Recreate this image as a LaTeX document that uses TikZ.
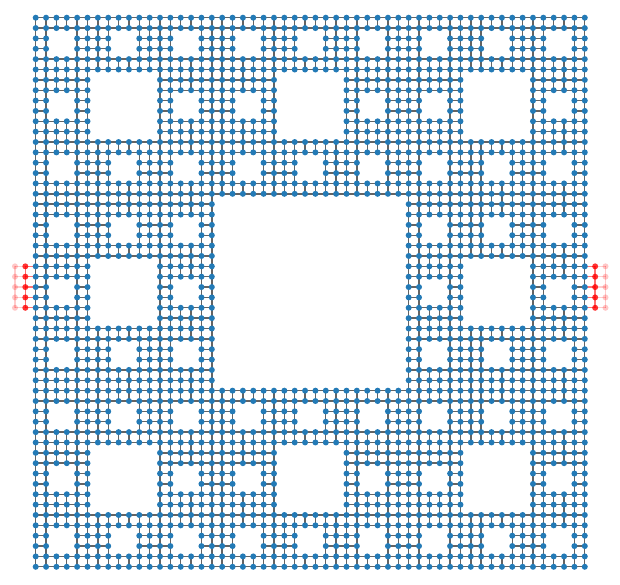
\documentclass[tikz,border=0pt]{standalone}
\definecolor{siteblue}{RGB}{35,122,182}
\definecolor{hopgrey}{RGB}{100,100,100}
\definecolor{leadred}{RGB}{255,0,0}
\begin{document}
\begin{tikzpicture}[x=1pt,y=-1pt,
  hop/.style={draw=hopgrey,line width=1.4pt},
  site/.style={fill=siteblue},
  leadhopA/.style={draw=leadred,line width=1.4pt,draw opacity=0.55},
  leadhopB/.style={draw=leadred,line width=1.4pt,draw opacity=0.2},
  leadsiteA/.style={fill=leadred,fill opacity=0.8},
  leadsiteB/.style={fill=leadred,fill opacity=0.22}]
\useasboundingbox (0,0) rectangle (620,584);
\def\ox{35.7}\def\oy{17.7}\def\sp{10.36}\def\rad{3.0}
\def\pairs{0/0,1/0,2/0,0/1,2/1,0/2,1/2,2/2}
% sites of the carpet (level 3, each cell holds 2x2 sites)
\foreach \ax/\ay in \pairs {\foreach \bx/\by in \pairs {\foreach \cx/\cy in \pairs {
  \edef\X{\the\numexpr 2*(9*\ax+3*\bx+\cx)\relax}%
  \edef\Y{\the\numexpr 2*(9*\ay+3*\by+\cy)\relax}%
  \edef\XX{\the\numexpr\X+1\relax}%
  \edef\YY{\the\numexpr\Y+1\relax}%
  \coordinate (n-\X-\Y) at (\ox+\X*\sp, \oy+\Y*\sp);
  \coordinate (n-\XX-\Y) at (\ox+\XX*\sp, \oy+\Y*\sp);
  \coordinate (n-\X-\YY) at (\ox+\X*\sp, \oy+\YY*\sp);
  \coordinate (n-\XX-\YY) at (\ox+\XX*\sp, \oy+\YY*\sp);
}}}
% lead sites
\foreach \r in {24,...,28}{
  \coordinate (L1-\r) at (\ox-\sp, \oy+\r*\sp);
  \coordinate (L2-\r) at (\ox-2*\sp, \oy+\r*\sp);
  \coordinate (R1-\r) at (\ox+54*\sp, \oy+\r*\sp);
  \coordinate (R2-\r) at (\ox+55*\sp, \oy+\r*\sp);
}
% hoppings of the carpet
\foreach \i in {0,...,53}{\foreach \j in {0,...,53}{%
  \ifcsname pgf@sh@ns@n-\i-\j\endcsname
    \edef\ip{\the\numexpr\i+1\relax}\edef\jp{\the\numexpr\j+1\relax}%
    \ifcsname pgf@sh@ns@n-\ip-\j\endcsname \draw[hop] (n-\i-\j) -- (n-\ip-\j);\fi
    \ifcsname pgf@sh@ns@n-\i-\jp\endcsname \draw[hop] (n-\i-\j) -- (n-\i-\jp);\fi
  \fi
}}
% lead hoppings
\foreach \r in {24,...,28}{
  \draw[leadhopA] (L1-\r) -- (n-0-\r);
  \draw[leadhopB] (L2-\r) -- (L1-\r);
  \draw[leadhopA] (R1-\r) -- (n-53-\r);
  \draw[leadhopB] (R2-\r) -- (R1-\r);
}
\foreach \r in {24,...,27}{
  \edef\rp{\the\numexpr\r+1\relax}%
  \draw[leadhopA] (L1-\r) -- (L1-\rp);
  \draw[leadhopB] (L2-\r) -- (L2-\rp);
  \draw[leadhopA] (R1-\r) -- (R1-\rp);
  \draw[leadhopB] (R2-\r) -- (R2-\rp);
}
% site dots
\foreach \i in {0,...,53}{\foreach \j in {0,...,53}{%
  \ifcsname pgf@sh@ns@n-\i-\j\endcsname
    \fill[site] (n-\i-\j) circle[radius=\rad];
  \fi
}}
\foreach \r in {24,...,28}{
  \fill[leadsiteA] (L1-\r) circle[radius=\rad];
  \fill[leadsiteB] (L2-\r) circle[radius=\rad];
  \fill[leadsiteA] (R1-\r) circle[radius=\rad];
  \fill[leadsiteB] (R2-\r) circle[radius=\rad];
}
\end{tikzpicture}
\end{document}
